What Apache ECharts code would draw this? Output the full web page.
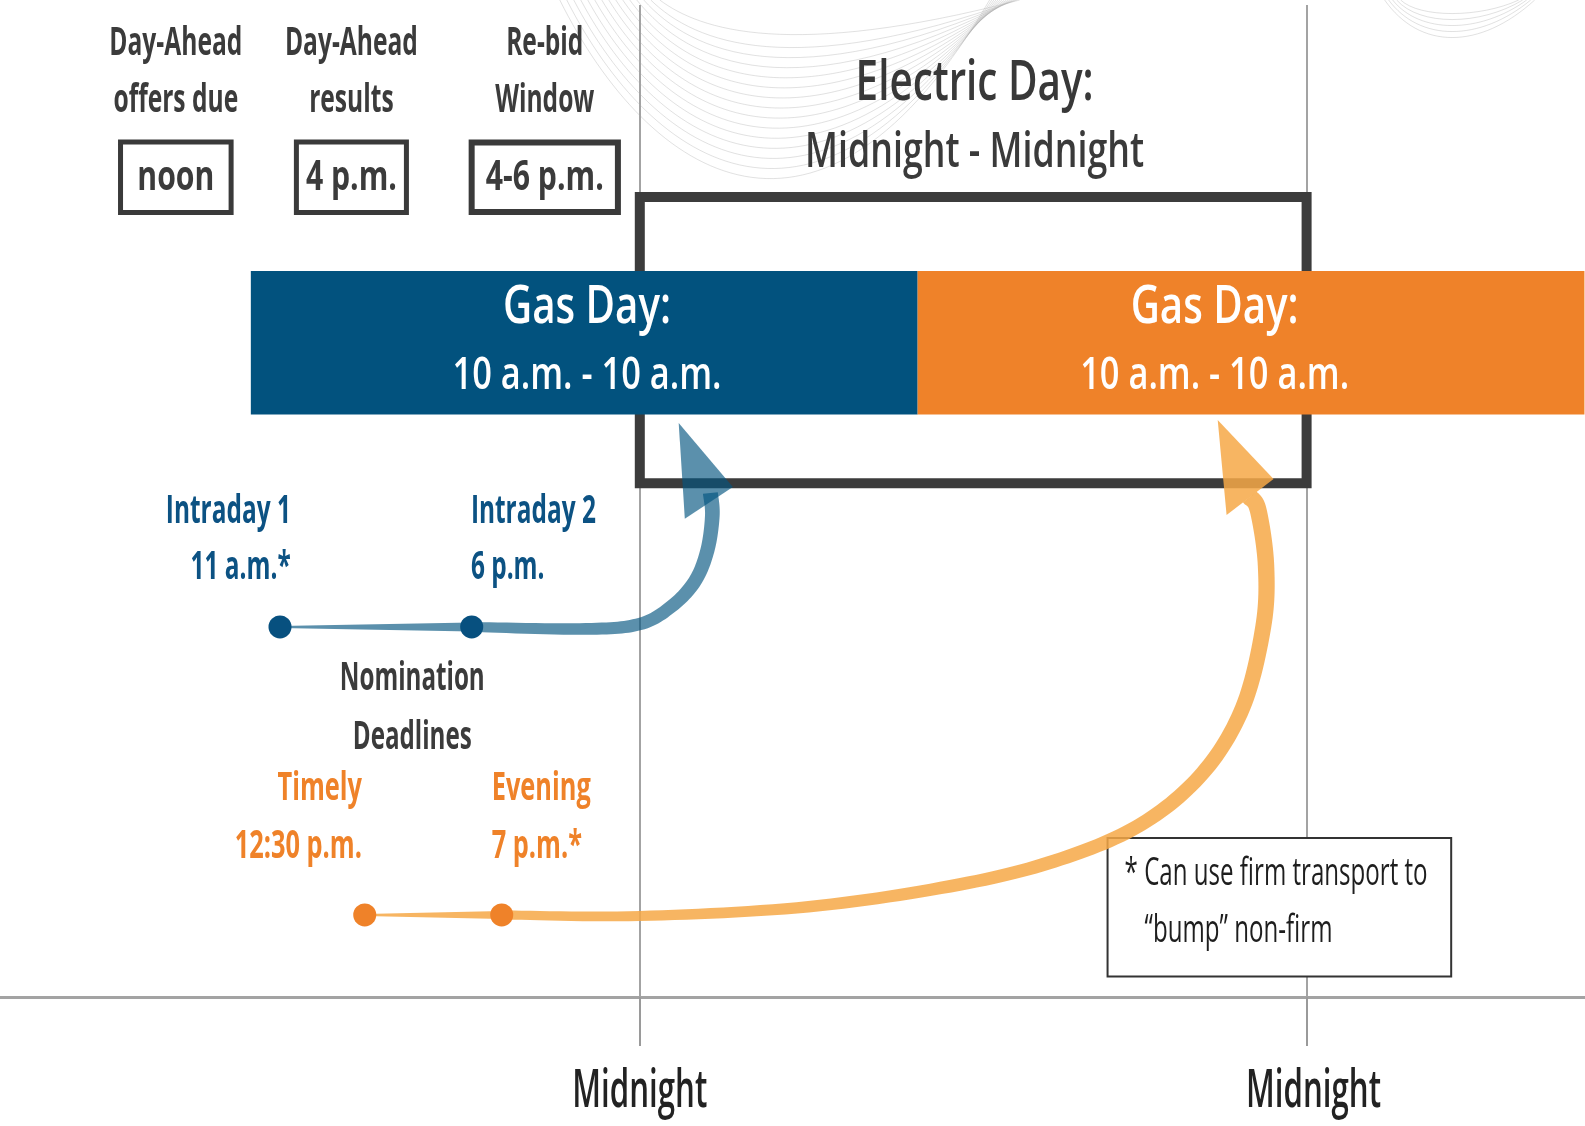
<!DOCTYPE html>
<html>
<head>
<meta charset="utf-8">
<script src="https://cdn.jsdelivr.net/npm/echarts@6/dist/echarts.min.js"></script>
<style>
html,body{margin:0;padding:0;background:#fff;}
#c{width:1585px;height:1126px;}
</style>
</head>
<body>
<div id="c"></div>
<script>
// ================= DATA (hours relative to the first midnight; heights 0-100) =================
const axisTickHours = [0, 24];
const axisTickLabels = ['Midnight', 'Midnight'];

const gasDayStart = [-14, 10];
const gasDayEnd = [10, 34];
const gasDayTitle = ['Gas Day:', 'Gas Day:'];
const gasDayRange = ['10 a.m. - 10 a.m.', '10 a.m. - 10 a.m.'];

const electricDay = [0, 24];
const electricDayText = ['Electric Day:', 'Midnight - Midnight'];

const marketEventNames = [['Day-Ahead', 'offers due'], ['Day-Ahead', 'results'], ['Re-bid', 'Window']];
const marketEventTimes = ['noon', '4 p.m.', '4-6 p.m.'];

const intradayNames = ['Intraday 1', 'Intraday 2'];
const intradayTimes = ['11 a.m.*', '6 p.m.'];
const intradayHours = [-12.95, -6.05];

const timelyNames = ['Timely', 'Evening'];
const timelyTimes = ['12:30 p.m.', '7 p.m.*'];
const timelyHours = [-9.9, -4.97];

const nominationTitle = ['Nomination', 'Deadlines'];
const footnoteLines = ['* Can use firm transport to', '\u201Cbump\u201D non-firm'];

// arrow routes [hour, height]
const intradayArrowPath = [[-6.05,37.3],[-1.94,37.1],[0,37.6],[1.15,39.4],[1.98,41.9],[2.43,45.0],[2.61,48.5],[2.54,50.8]];
const intradayArrowHead = [[1.40,57.86],[1.62,48.2],[3.35,51.41]];
const timelyArrowPath = [[-4.97,8.27],[0,8.17],[6.07,9.10],[11.51,11.34],[15.15,13.91],[18.06,17.44],[20.26,22.58],[21.70,29.17],[22.44,37.33],[22.54,43.45],[22.26,49.04],[21.95,50.4]];
const timelyArrowHead = [[20.80,58.17],[21.12,48.59],[22.81,52.22]];

// ================= LAYOUT / STYLE =================
const L = {
  headerLine1: 96.12, headerLine2: 90.32, headerBoxText: 82.56,
  headerBoxTop: 86.44, headerBoxBottom: 78.83,
  headerCenters: [-16.7, -10.38, -3.42], headerHalfW: [2.08, 2.07, 2.74], headerLw: [5, 5, 6],
  electricX: 12.05, electricLine1: 92.04, electricLine2: 85.0,
  electricTop: 80.65, electricBottom: 51.8,
  gasTop: 73.19, gasBottom: 58.72, gasLine1: 69.43, gasLine2: 62.6, gasTextX: [-1.9, 20.69],
  intradayLine1: 48.94, intradayLine2: 43.25, intradayDotY: 37.3,
  intradayAnchor: [-12.56, -6.08], intradayAlign: ['right', 'left'],
  nomX: -8.19, nomLine1: 32.06, nomLine2: 26.1,
  timelyLine1: 21.03, timelyLine2: 15.12, timelyDotY: 8.27,
  timelyAnchor: [-10.0, -5.33], timelyAlign: ['right', 'left'],
  footBox: [16.80, 16.13, 29.24, 1.97],
  footText: [[17.45, 12.4], [18.17, 6.65]],
  axisLabelY: -9.58, axisLabelDx: [0, 0.25]
};
const COLORS = {
  blue: '#02527e', blueText: '#0c5283', orange: '#ef8229', dark: '#3b3b3b',
  blueArrow: 'rgba(3,84,127,0.65)', orangeArrow: 'rgba(246,168,70,0.85)',
  grid: '#a3a3a3', deco: 'rgba(170,170,170,0.35)'
};
const FONT = "'Open Sans', 'Noto Sans', 'Liberation Sans', sans-serif";
const TEXT_STYLES = {
  hdr:   { size: 40, weight: 700, color: COLORS.dark, ref: 'Day-Ahead', target: 133 },
  box:   { size: 42, weight: 700, color: COLORS.dark, ref: '4-6 p.m.', target: 118 },
  elec1: { size: 56, weight: 600, color: '#383838', ref: 'Electric Day:', target: 238 },
  elec2: { size: 48, weight: 600, color: '#3a3a3a', ref: 'Midnight - Midnight', target: 339 },
  gas1:  { size: 52, weight: 600, color: '#ffffff', ref: 'Gas Day:', target: 168 },
  gas2:  { size: 46, weight: 600, color: '#ffffff', ref: '10 a.m. - 10 a.m.', target: 269 },
  intr:  { size: 40, weight: 700, color: COLORS.blueText, ref: 'Intraday 1', target: 125 },
  nom:   { size: 40, weight: 700, color: COLORS.dark, ref: 'Nomination', target: 145 },
  orng:  { size: 40, weight: 700, color: COLORS.orange, ref: 'Evening', target: 99 },
  foot:  { size: 39, weight: 500, color: '#1e1e1e', ref: '* Can use firm transport to', target: 303 },
  mid:   { size: 52, weight: 600, color: '#222222', ref: 'Midnight', target: 135 }
};
const mctx = document.createElement('canvas').getContext('2d');
Object.keys(TEXT_STYLES).forEach(k => {
  const s = TEXT_STYLES[k];
  mctx.font = s.weight + ' ' + s.size + 'px ' + FONT;
  s.scale = s.target / mctx.measureText(s.ref).width;
});

// ================= TEXT ITEMS =================
const texts = [];
marketEventNames.forEach((lines, i) => {
  texts.push({ h: L.headerCenters[i], y: L.headerLine1, text: lines[0], st: 'hdr', align: 'center' });
  texts.push({ h: L.headerCenters[i], y: L.headerLine2, text: lines[1], st: 'hdr', align: 'center' });
  texts.push({ h: L.headerCenters[i], y: L.headerBoxText, text: marketEventTimes[i], st: 'box', align: 'center' });
});
texts.push({ h: L.electricX, y: L.electricLine1, text: electricDayText[0], st: 'elec1', align: 'center' });
texts.push({ h: L.electricX, y: L.electricLine2, text: electricDayText[1], st: 'elec2', align: 'center' });
gasDayTitle.forEach((t, i) => {
  texts.push({ h: L.gasTextX[i], y: L.gasLine1, text: t, st: 'gas1', align: 'center' });
  texts.push({ h: L.gasTextX[i], y: L.gasLine2, text: gasDayRange[i], st: 'gas2', align: 'center' });
});
intradayNames.forEach((t, i) => {
  texts.push({ h: L.intradayAnchor[i], y: L.intradayLine1, text: t, st: 'intr', align: L.intradayAlign[i] });
  texts.push({ h: L.intradayAnchor[i], y: L.intradayLine2, text: intradayTimes[i], st: 'intr', align: L.intradayAlign[i] });
});
texts.push({ h: L.nomX, y: L.nomLine1, text: nominationTitle[0], st: 'nom', align: 'center' });
texts.push({ h: L.nomX, y: L.nomLine2, text: nominationTitle[1], st: 'nom', align: 'center' });
timelyNames.forEach((t, i) => {
  texts.push({ h: L.timelyAnchor[i], y: L.timelyLine1, text: t, st: 'orng', align: L.timelyAlign[i] });
  texts.push({ h: L.timelyAnchor[i], y: L.timelyLine2, text: timelyTimes[i], st: 'orng', align: L.timelyAlign[i] });
});
footnoteLines.forEach((t, i) => {
  texts.push({ h: L.footText[i][0], y: L.footText[i][1], text: t, st: 'foot', align: 'left' });
});
axisTickHours.forEach((h, i) => {
  texts.push({ h: h + L.axisLabelDx[i], y: L.axisLabelY, text: axisTickLabels[i], st: 'mid', align: 'center' });
});

// ================= DECORATION (faint background waves) =================
const decoSteps = [0, 0.07, 0.14, 0.21, 0.28, 0.35, 0.42, 0.49, 0.56, 0.63, 0.70, 0.77, 0.84, 0.91, 1.0];
const decoBowls = [0, 1, 2, 3, 4];
const decoCurves = [];
decoSteps.forEach(t => decoCurves.push([
  -2.88 + 3.60 * t, 100.5,
  0.36 + 1.80 * t, 82.36 + 15.12 * t,
  6.48 - 1.08 * t, 71.27 + 23.19 * t,
  12.59 + 1.08 * t, 100.5
]));
decoBowls.forEach(k => decoCurves.push([
  26.81 + 0.144 * k, 100.5,
  28.07, 95.46 + 0.806 * k,
  30.23, 95.46 + 0.806 * k,
  32.21 - 0.144 * k, 100.5
]));

// ================= HELPERS =================
function rectBetween(api, h0, y0, h1, y1, inset) {
  const a = api.coord([h0, y0]), b = api.coord([h1, y1]);
  const d = inset || 0;
  return { x: Math.min(a[0], b[0]) + d, y: Math.min(a[1], b[1]) + d,
           width: Math.abs(b[0] - a[0]) - 2 * d, height: Math.abs(b[1] - a[1]) - 2 * d };
}
function catmull(pts, n) {
  const out = [];
  for (let i = 0; i < pts.length - 1; i++) {
    const p0 = pts[Math.max(i - 1, 0)], p1 = pts[i], p2 = pts[i + 1], p3 = pts[Math.min(i + 2, pts.length - 1)];
    for (let s = 0; s < n; s++) {
      const t = s / n, t2 = t * t, t3 = t2 * t;
      const f = (k) => 0.5 * (2 * p1[k] + (-p0[k] + p2[k]) * t + (2 * p0[k] - 5 * p1[k] + 4 * p2[k] - p3[k]) * t2 + (-p0[k] + 3 * p1[k] - 3 * p2[k] + p3[k]) * t3);
      out.push([f(0), f(1)]);
    }
  }
  out.push(pts[pts.length - 1]);
  return out;
}
function ribbon(pts, w0, w1) {
  const len = [0];
  for (let i = 1; i < pts.length; i++) len.push(len[i - 1] + Math.hypot(pts[i][0] - pts[i - 1][0], pts[i][1] - pts[i - 1][1]));
  const total = len[len.length - 1] || 1;
  const left = [], right = [];
  for (let i = 0; i < pts.length; i++) {
    const a = pts[Math.max(i - 1, 0)], b = pts[Math.min(i + 1, pts.length - 1)];
    let tx = b[0] - a[0], ty = b[1] - a[1];
    const m = Math.hypot(tx, ty) || 1; tx /= m; ty /= m;
    const w = (w0 + (w1 - w0) * len[i] / total) / 2;
    left.push([pts[i][0] - ty * w, pts[i][1] + tx * w]);
    right.push([pts[i][0] + ty * w, pts[i][1] - tx * w]);
  }
  return left.concat(right.reverse());
}
function arrowRenderer(dotHours, dotY, path, head, color, wDots, wShaft) {
  return function (params, api) {
    const d0 = api.coord([dotHours[0], dotY]), d1 = api.coord([dotHours[1], dotY]);
    const pix = path.map(p => api.coord(p));
    const smooth = catmull(pix, 14);
    return {
      type: 'group',
      children: [
        { type: 'polygon', shape: { points: ribbon([d0, d1], wDots[0], wDots[1]) }, style: { fill: color } },
        { type: 'polygon', shape: { points: ribbon(smooth, wShaft[0], wShaft[1]) }, style: { fill: color } },
        { type: 'polygon', shape: { points: head.map(p => api.coord(p)) }, style: { fill: color } }
      ]
    };
  };
}

// ================= CHART =================
const chart = echarts.init(document.getElementById('c'), null, { renderer: 'canvas', width: 1585, height: 1126 });
const option = {
  animation: false,
  backgroundColor: '#ffffff',
  grid: { left: -27, right: -55, top: 5, bottom: 129, containLabel: false, outerBoundsMode: 'none' },
  xAxis: {
    type: 'value', min: -24, max: 36, interval: 24,
    axisLine: { show: true, onZero: false, lineStyle: { color: COLORS.grid, width: 3 } },
    axisTick: { show: true, length: 49, lineStyle: { color: '#9a9a9a', width: 2 } },
    splitLine: { show: true, lineStyle: { color: COLORS.grid, width: 2 } },
    axisLabel: { show: false }
  },
  yAxis: { type: 'value', min: 0, max: 100, show: false },
  series: [
    { // faint background waves
      type: 'custom', silent: true, z: 1,
      data: decoCurves.map(c => [c[0], c[1]]),
      renderItem: function (params, api) {
        const c = decoCurves[params.dataIndex];
        const p0 = api.coord([c[0], c[1]]), p1 = api.coord([c[2], c[3]]), p2 = api.coord([c[4], c[5]]), p3 = api.coord([c[6], c[7]]);
        return { type: 'bezierCurve', shape: { x1: p0[0], y1: p0[1], cpx1: p1[0], cpy1: p1[1], cpx2: p2[0], cpy2: p2[1], x2: p3[0], y2: p3[1] },
                 style: { stroke: COLORS.deco, lineWidth: 1, fill: null } };
      }
    },
    { // electric day frame
      type: 'custom', silent: true, z: 2,
      data: [[electricDay[0], L.electricTop]],
      renderItem: function (params, api) {
        return { type: 'rect', shape: rectBetween(api, electricDay[0], L.electricTop, electricDay[1], L.electricBottom),
                 style: { fill: null, stroke: '#3c3c3c', lineWidth: 10 } };
      }
    },
    { // gas day bars
      type: 'custom', silent: true, z: 3,
      data: gasDayStart.map((s, i) => [s, gasDayEnd[i]]),
      renderItem: function (params, api) {
        const i = params.dataIndex;
        return { type: 'rect', shape: rectBetween(api, gasDayStart[i], L.gasTop, gasDayEnd[i], L.gasBottom),
                 style: { fill: i === 0 ? COLORS.blue : COLORS.orange } };
      }
    },
    { // market event boxes
      type: 'custom', silent: true, z: 3,
      data: marketEventTimes.map((t, i) => [L.headerCenters[i], L.headerBoxTop]),
      renderItem: function (params, api) {
        const i = params.dataIndex, c = L.headerCenters[i], w = L.headerHalfW[i], lw = L.headerLw[i];
        return { type: 'rect', shape: rectBetween(api, c - w, L.headerBoxTop, c + w, L.headerBoxBottom, lw / 2),
                 style: { fill: '#ffffff', stroke: '#3a3a3a', lineWidth: lw } };
      }
    },
    { // footnote box
      type: 'custom', silent: true, z: 3,
      data: [[L.footBox[0], L.footBox[1]]],
      renderItem: function (params, api) {
        const b = L.footBox;
        return { type: 'rect', shape: rectBetween(api, b[0], b[1], b[2], b[3], 1),
                 style: { fill: '#ffffff', stroke: '#333333', lineWidth: 2 } };
      }
    },
    { // intraday arrow
      type: 'custom', silent: true, z: 4,
      data: [[intradayHours[0], L.intradayDotY]],
      renderItem: arrowRenderer(intradayHours, L.intradayDotY, intradayArrowPath, intradayArrowHead, COLORS.blueArrow, [2, 9], [10, 15])
    },
    { // timely / evening arrow
      type: 'custom', silent: true, z: 4,
      data: [[timelyHours[0], L.timelyDotY]],
      renderItem: arrowRenderer(timelyHours, L.timelyDotY, timelyArrowPath, timelyArrowHead, COLORS.orangeArrow, [2, 8], [9, 17])
    },
    {
      type: 'scatter', silent: true, z: 5, symbol: 'circle', symbolSize: 23,
      itemStyle: { color: '#07507f', opacity: 1 },
      data: intradayHours.map(h => [h, L.intradayDotY])
    },
    {
      type: 'scatter', silent: true, z: 5, symbol: 'circle', symbolSize: 23,
      itemStyle: { color: COLORS.orange, opacity: 1 },
      data: timelyHours.map(h => [h, L.timelyDotY])
    },
    { // all text
      type: 'custom', silent: true, z: 6,
      data: texts.map(t => [t.h, t.y]),
      renderItem: function (params, api) {
        const t = texts[params.dataIndex], s = TEXT_STYLES[t.st];
        const p = api.coord([t.h, t.y]);
        return { type: 'text', x: p[0], y: p[1], scaleX: s.scale, scaleY: 1,
                 style: { text: t.text, fill: s.color, fontSize: s.size, fontWeight: s.weight, fontFamily: FONT,
                          align: t.align, verticalAlign: 'middle' } };
      }
    }
  ]
};
chart.setOption(option);
</script>
</body>
</html>
